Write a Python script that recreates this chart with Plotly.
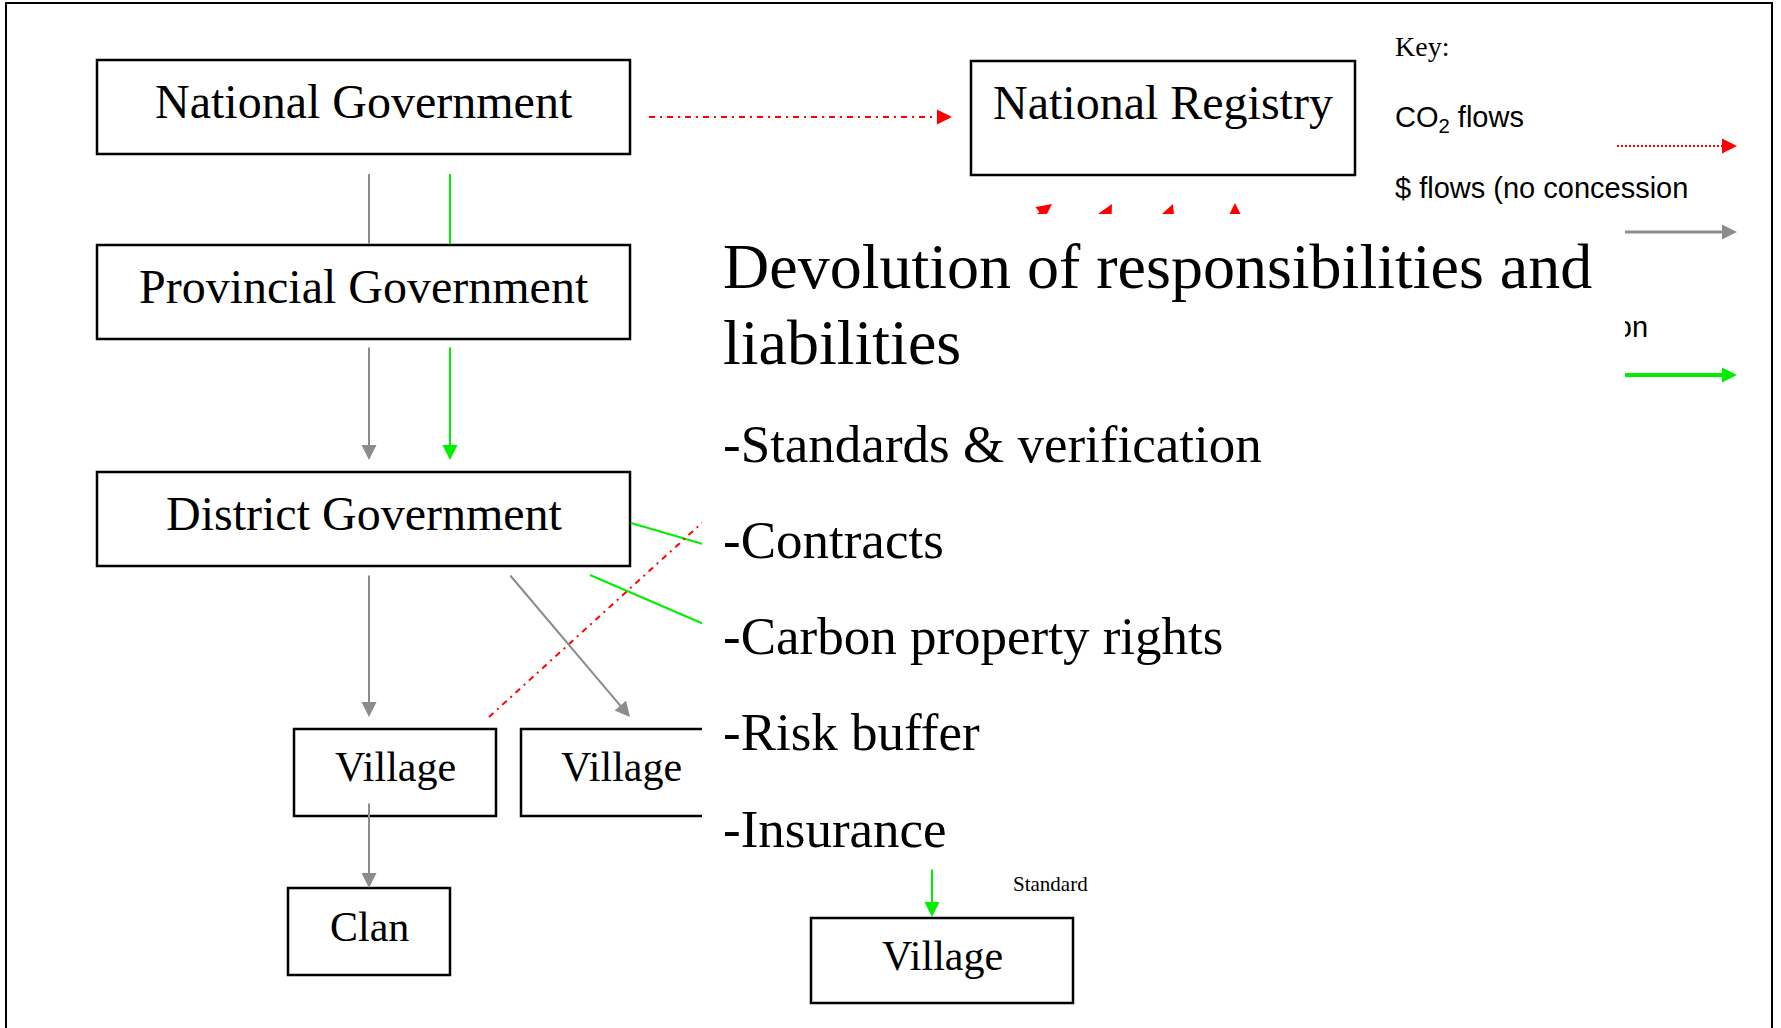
import math
import plotly.graph_objects as go

W, H = 1781, 1028
SERIF = "Liberation Serif"
SANS = "Liberation Sans"
GRAY = "#8c8c8c"
GREEN = "#00ee00"
RED = "#ff0000"

# ---- boxes (organisation levels) ----
box_labels = ["National Government", "National Registry", "Provincial Government",
              "District Government", "Village", "Village", "Clan", "Village"]
box_x0 = [97, 971, 97, 97, 294, 521, 288, 811]
box_x1 = [630, 1355, 630, 630, 496, 722, 450, 1073]
box_y0 = [60, 61, 245, 472, 729, 729, 888, 918]
box_y1 = [154, 175, 339, 566, 816, 816, 975, 1003]
label_x = [364, 1163, 364, 364, 395, 621, 369, 942]
label_y = [101, 102, 286, 513, 767, 767, 927, 956]
label_size = [48, 48, 48, 48, 42, 42, 42, 42]

# ---- plain connector segments (no heads) ----
seg_x0 = [369, 450, 631, 590]
seg_y0 = [174, 174, 523, 575]
seg_x1 = [369, 450, 720, 720]
seg_y1 = [244, 244, 549, 631]
seg_color = [GRAY, GREEN, GREEN, GREEN]

# ---- red CO2 dash-dot segments ----
co2_x0 = [649, 489]
co2_y0 = [117, 717]
co2_x1 = [938, 760]
co2_y1 = [117, 470]

# ---- solid arrows (tail -> head) ----
arr_tx = [369, 369, 509, 369, 450, 932, 1600, 1600]
arr_ty = [346, 574, 574, 802, 346, 868, 232, 375]
arr_hx = [369, 369, 630, 369, 450, 932, 1737, 1737]
arr_hy = [460, 717, 717, 888, 460, 917, 232, 375]
arr_color = [GRAY, GRAY, GRAY, GRAY, GREEN, GREEN, GRAY, GREEN]
arr_width = [2, 2, 2, 2, 2, 2, 3, 4]

# ---- red arrow heads (short stubs) ----
head_tx = [937, 1722, 956, 1045, 1120, 1235]
head_ty = [117, 146, 276, 328, 340, 330]
head_hx = [952, 1737, 1052, 1112, 1173, 1235]
head_hy = [117, 146, 204, 204, 204, 203]

# ---- key ----
key_texts = ["Key:", "CO<sub>2</sub> flows", "$ flows (no concession",
             "finance to district)", "$ flows (concession"]
key_y = [46, 119, 188, 227, 327]
key_font = [SERIF, SANS, SANS, SANS, SANS]
key_size = [28, 29, 29, 29, 29]
key_x = 1394
key_dot_x = [1617, 1724]
key_dot_y = 146

# ---- overlay text block ----
overlay_x = [702, 1625]
overlay_y = [214, 866]
block_lines = ["Devolution of responsibilities and", "liabilities",
               "-Standards & verification", "-Contracts",
               "-Carbon property rights", "-Risk buffer", "-Insurance"]
block_y = [266, 342, 444, 540, 636, 732, 829]
block_size = [64, 64, 53, 53, 53, 53, 53]
block_x = 722

small_text = "Standard"
small_xy = (1012, 884)

fig = go.Figure()

shapes = []
# outer frame
shapes.append(dict(type="rect", x0=6, y0=3, x1=1772, y1=H + 20,
                   line=dict(color="black", width=2)))
for i in range(len(box_labels)):
    shapes.append(dict(type="rect", x0=box_x0[i], y0=box_y0[i], x1=box_x1[i], y1=box_y1[i],
                       line=dict(color="black", width=2.5)))
for i in range(len(seg_x0)):
    shapes.append(dict(type="line", x0=seg_x0[i], y0=seg_y0[i], x1=seg_x1[i], y1=seg_y1[i],
                       line=dict(color=seg_color[i], width=2)))
for i in range(len(co2_x0)):
    shapes.append(dict(type="line", x0=co2_x0[i], y0=co2_y0[i], x1=co2_x1[i], y1=co2_y1[i],
                       line=dict(color=RED, width=2, dash="6px,5px,2px,5px")))
shapes.append(dict(type="line", x0=key_dot_x[0], y0=key_dot_y, x1=key_dot_x[1], y1=key_dot_y,
                   line=dict(color=RED, width=2, dash="2px,2px")))

ann = []
for i in range(len(arr_tx)):
    ann.append(dict(x=arr_hx[i], y=arr_hy[i], ax=arr_tx[i], ay=arr_ty[i],
                    xref="x", yref="y", axref="x", ayref="y", text="",
                    showarrow=True, arrowhead=2, arrowwidth=arr_width[i],
                    arrowsize=3.0 / arr_width[i], arrowcolor=arr_color[i], standoff=0))
for i in range(len(head_tx)):
    ann.append(dict(x=head_hx[i], y=head_hy[i], ax=head_tx[i], ay=head_ty[i],
                    xref="x", yref="y", axref="x", ayref="y", text="",
                    showarrow=True, arrowhead=2, arrowwidth=2, arrowsize=1.5,
                    arrowcolor=RED, standoff=0))
for i, t in enumerate(key_texts):
    ann.append(dict(x=key_x, y=key_y[i], xref="x", yref="y", text=t, showarrow=False,
                    xanchor="left", yanchor="middle", borderpad=0,
                    font=dict(family=key_font[i], size=key_size[i], color="black")))
# white text-box overlay
ann.append(dict(x=(overlay_x[0] + overlay_x[1]) / 2, y=(overlay_y[0] + overlay_y[1]) / 2,
                xref="x", yref="y", text=" ", showarrow=False,
                width=overlay_x[1] - overlay_x[0], height=overlay_y[1] - overlay_y[0],
                bgcolor="white", borderpad=0, borderwidth=0,
                xanchor="center", yanchor="middle"))
for i, t in enumerate(block_lines):
    ann.append(dict(x=block_x, y=block_y[i], xref="x", yref="y", text=t, showarrow=False,
                    xanchor="left", yanchor="middle", borderpad=0,
                    font=dict(family=SERIF, size=block_size[i], color="black")))
for i, t in enumerate(box_labels):
    ann.append(dict(x=label_x[i], y=label_y[i], xref="x", yref="y", text=t, showarrow=False,
                    xanchor="center", yanchor="middle", borderpad=0,
                    font=dict(family=SERIF, size=label_size[i], color="black")))
ann.append(dict(x=small_xy[0], y=small_xy[1], xref="x", yref="y", text=small_text,
                showarrow=False, xanchor="left", yanchor="middle", borderpad=0,
                font=dict(family=SERIF, size=21, color="black")))

fig.update_layout(
    width=W, height=H, margin=dict(l=0, r=0, t=0, b=0),
    paper_bgcolor="white", plot_bgcolor="white",
    xaxis=dict(range=[0, W], visible=False, fixedrange=True),
    yaxis=dict(range=[H, 0], visible=False, fixedrange=True),
    shapes=shapes, annotations=ann, showlegend=False,
)

fig.write_html("out.html", config={"displayModeBar": False},
               post_script="document.body.style.margin='0';document.body.style.overflow='hidden';")
